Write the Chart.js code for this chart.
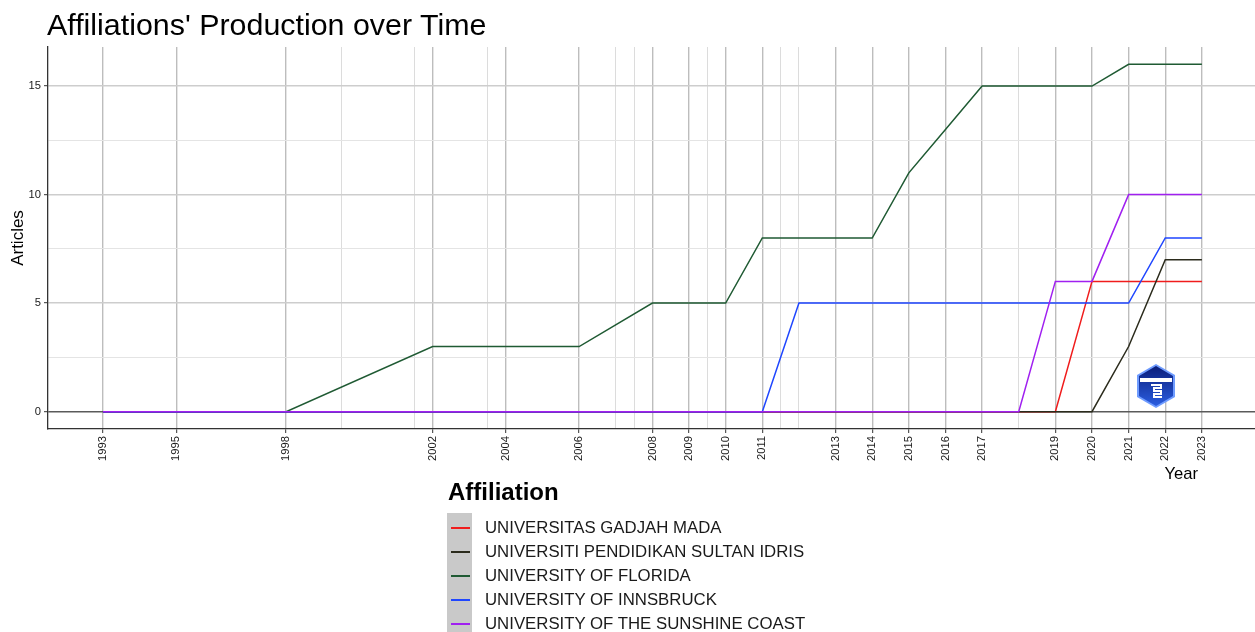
<!DOCTYPE html>
<html>
<head>
<meta charset="utf-8">
<script src="https://cdn.jsdelivr.net/npm/chart.js@4/dist/chart.umd.min.js"></script>
<style>
  html, body { margin: 0; padding: 0; background: #fff; }
  body { width: 1255px; height: 632px; position: relative; overflow: hidden; font-family: "Liberation Sans", Arial, sans-serif; }
  #chart { position: absolute; left: 0; top: 0; }
  .title { position: absolute; left: 47px; top: 9px; font-size: 30.4px; line-height: 30px; color: #000; white-space: nowrap; }
  .xtitle { position: absolute; right: 57px; top: 464px; font-size: 16.6px; line-height: 20px; color: #000; }
  .logo { position: absolute; left: 1134px; top: 363px; }
  #legend { position: absolute; left: 447px; top: 480px; }
  #legend .lt { font-weight: bold; font-size: 24px; line-height: 24px; color: #000; margin-left: 1px; }
  #legend .keys { position: absolute; left: 0; top: 33px; width: 25px; height: 120px; background: #c9c9c9; }
  #legend .row { position: absolute; left: 0; height: 24px; width: 420px; }
  #legend .row i { position: absolute; left: 4px; top: 11px; width: 19px; height: 2px; }
  #legend .row span { position: absolute; left: 38px; top: 0; font-size: 16.8px; line-height: 24px; color: #1a1a1a; white-space: nowrap; }
</style>
</head>
<body>
<canvas id="chart" width="1255" height="632"></canvas>
<div class="title">Affiliations' Production over Time</div>
<div class="xtitle">Year</div>
<div id="legend"><div class="lt">Affiliation</div><div class="keys"></div></div>
<svg class="logo" width="44" height="46" viewBox="0 0 44 46">
  <defs>
    <linearGradient id="lg" x1="0" y1="0" x2="0" y2="1">
      <stop offset="0" stop-color="#0b1e7a"/>
      <stop offset="1" stop-color="#2a5de0"/>
    </linearGradient>
  </defs>
  <polygon points="22,1 41,12 41,34 22,45 3,34 3,12" fill="#6f9cff"/>
  <polygon points="22,3 39,13 39,33 22,43 5,33 5,13" fill="url(#lg)"/>
  <rect x="6" y="15" width="32" height="4" fill="#fff"/>
  <path d="M17 22 h10 v3 h-7 v3 h7 v3 h-7 v3 h8" stroke="#fff" stroke-width="2" fill="none"/>
</svg>
<script>
'use strict';

// ---- data ----
const years = [1993, 1995, 1998, 2002, 2004, 2006, 2008, 2009, 2010, 2011, 2012,
  2013, 2014, 2015, 2016, 2017, 2018, 2019, 2020, 2021, 2022, 2023];
const gadjahMada = [0, 0, 0, 0, 0, 0, 0, 0, 0, 0, 0, 0, 0, 0, 0, 0, 0, 0, 6, 6, 6, 6];
const sultanIdris = [0, 0, 0, 0, 0, 0, 0, 0, 0, 0, 0, 0, 0, 0, 0, 0, 0, 0, 0, 3, 7, 7];
const florida = [0, 0, 0, 3, 3, 3, 5, 5, 5, 8, 8, 8, 8, 11, 13, 15, 15, 15, 15, 16, 16, 16];
const innsbruck = [0, 0, 0, 0, 0, 0, 0, 0, 0, 0, 5, 5, 5, 5, 5, 5, 5, 5, 5, 5, 8, 8];
const sunshineCoast = [0, 0, 0, 0, 0, 0, 0, 0, 0, 0, 0, 0, 0, 0, 0, 0, 0, 6, 6, 10, 10, 10];

const seriesNames = ['UNIVERSITAS GADJAH MADA', 'UNIVERSITI PENDIDIKAN SULTAN IDRIS',
  'UNIVERSITY OF FLORIDA', 'UNIVERSITY OF INNSBRUCK', 'UNIVERSITY OF THE SUNSHINE COAST'];
const seriesValues = [gadjahMada, sultanIdris, florida, innsbruck, sunshineCoast];
const seriesColors = ['#f01c1c', '#2b2b1c', '#1f5a33', '#1f46ff', '#a020f0'];

// ---- axis breaks ----
const xTickLabels = [1993, 1995, 1998, 2002, 2004, 2006, 2008, 2009, 2010, 2011, 2013,
  2014, 2015, 2016, 2017, 2019, 2020, 2021, 2022, 2023];
const xMinorBreaks = [1999.5, 2001.5, 2003.5, 2007, 2007.5, 2009.5, 2011.5, 2012, 2018];
const yTickLabels = [0, 5, 10, 15];
const yMinorBreaks = [2.5, 7.5, 12.5];

// ---- legend (html) ----
const legendEl = document.getElementById('legend');
seriesNames.forEach((name, i) => {
  const row = document.createElement('div');
  row.className = 'row';
  row.style.top = (36 + i * 24) + 'px';
  row.innerHTML = `<i style="background:${seriesColors[i]}"></i><span>${name}</span>`;
  legendEl.appendChild(row);
});

// ---- chart ----
const datasets = seriesNames.map((name, i) => ({
  label: name,
  data: years.map((y, k) => ({ x: y, y: seriesValues[i][k] })),
  borderColor: seriesColors[i],
  backgroundColor: seriesColors[i],
  borderWidth: 1.5,
  pointRadius: 0,
  tension: 0,
  fill: false,
  order: seriesNames.length - i
}));

const isIn = (arr, v) => arr.some(a => Math.abs(a - v) < 1e-6);
const font = { family: '"Liberation Sans", Arial, sans-serif' };

new Chart(document.getElementById('chart').getContext('2d'), {
  type: 'line',
  data: { datasets },
  options: {
    responsive: false,
    animation: false,
    devicePixelRatio: 1,
    layout: { padding: { top: 47, left: 0, right: 0, bottom: 0 } },
    plugins: { legend: { display: false }, tooltip: { enabled: false }, title: { display: false } },
    scales: {
      x: {
        type: 'linear',
        min: 1991.5,
        max: 2024.45,
        afterBuildTicks: (s) => { s.ticks = xTickLabels.concat(xMinorBreaks).sort((a, b) => a - b).map(v => ({ value: v })); },
        afterFit: (s) => { s.height = 203; },
        border: { display: true, color: '#333', width: 1.3 },
        grid: {
          color: (c) => isIn(xTickLabels, c.tick.value) ? '#bdbdbd' : '#dcdcdc',
          lineWidth: (c) => isIn(xTickLabels, c.tick.value) ? 1.4 : 1,
          tickColor: (c) => isIn(xTickLabels, c.tick.value) ? '#333' : 'rgba(0,0,0,0)',
          tickLength: 4,
          tickWidth: 1
        },
        ticks: {
          autoSkip: false,
          minRotation: 90,
          maxRotation: 90,
          padding: 3,
          color: '#1a1a1a',
          font: { ...font, size: 11.2 },
          callback: (v) => isIn(xTickLabels, v) ? String(v) : ''
        }
      },
      y: {
        min: -0.8,
        max: 16.8,
        afterBuildTicks: (s) => { s.ticks = yTickLabels.concat(yMinorBreaks).sort((a, b) => a - b).map(v => ({ value: v })); },
        afterFit: (s) => { s.width = 48; },
        border: { display: true, color: '#333', width: 1.3 },
        grid: {
          color: (c) => c.tick.value === 0 ? '#5a5a5a' : (isIn(yTickLabels, c.tick.value) ? '#cdcdcd' : '#e4e4e4'),
          lineWidth: (c) => isIn(yTickLabels, c.tick.value) ? 1.4 : 1.1,
          tickColor: (c) => isIn(yTickLabels, c.tick.value) ? '#333' : 'rgba(0,0,0,0)',
          tickLength: 4,
          tickWidth: 1
        },
        ticks: {
          padding: 3,
          color: '#1a1a1a',
          font: { ...font, size: 11.2 },
          callback: (v) => isIn(yTickLabels, v) ? String(v) : ''
        },
        title: {
          display: true,
          text: 'Articles',
          color: '#000',
          font: { ...font, size: 17 },
          padding: { top: 8, bottom: 0 }
        }
      }
    }
  }
});
</script>
</body>
</html>
